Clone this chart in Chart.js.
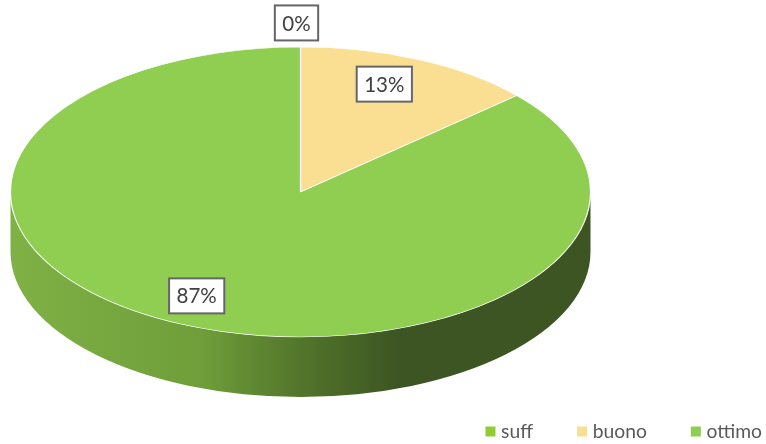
<!DOCTYPE html>
<html>
<head>
<meta charset="utf-8">
<script src="https://cdn.jsdelivr.net/npm/chart.js@4/dist/chart.umd.js"></script>
<style>
html,body{margin:0;padding:0;background:#fff}
#wrap{width:766px;height:444px;position:relative}
</style>
</head>
<body>
<div id="wrap"><canvas id="c" width="766" height="444"></canvas></div>
<script>
const categories = ['suff', 'buono', 'ottimo'];
const sliceValues = [0, 13.4, 86.6];
const sliceColors = ['#92CC34', '#FADF93', '#8FCE50'];

// label placement: radial fraction of the ellipse, then a small pixel nudge
const labelRadial = [1.166, 0.8, 0.8];
const labelNudgeX = [-4, -11, -9];
const labelNudgeY = [0, -2, -2];

const FONT = 'Lato, "Open Sans", sans-serif';
const ellipse = { cx: 300.5, cy: 192, rx: 290, ry: 145, depth: 60 };
const legendGap = 44;
const legendFontSize = 19.3;
const legendRowCentre = 431.5;
const legendRightEdge = 762;

const pie3d = {
  id: 'pie3d',
  afterLayout(chart) {
    const lg = chart.legend;
    lg.top = legendRowCentre - legendFontSize / 2 - legendGap;
    lg.bottom = lg.top + lg.height;
    lg.right = legendRightEdge + legendGap;
  },
  beforeDatasetsDraw(chart) {
    const { ctx } = chart;
    const { cx, cy, rx, ry, depth } = ellipse;
    const g = ctx.createLinearGradient(cx - rx, 0, cx + rx, 0);
    g.addColorStop(0, '#7FB145');
    g.addColorStop(0.33, '#6F9E3A');
    g.addColorStop(0.5, '#52752B');
    g.addColorStop(0.67, '#3C5522');
    g.addColorStop(1, '#3C5522');
    ctx.save();
    ctx.beginPath();
    ctx.moveTo(cx - rx, cy);
    ctx.lineTo(cx - rx, cy + depth);
    ctx.ellipse(cx, cy + depth, rx, ry, 0, Math.PI, 0, true);
    ctx.lineTo(cx + rx, cy);
    ctx.ellipse(cx, cy, rx, ry, 0, 0, Math.PI, false);
    ctx.closePath();
    ctx.fillStyle = g;
    ctx.fill();
    ctx.restore();

    const arc = chart.getDatasetMeta(0).data[0];
    ctx.save();
    ctx.translate(cx, cy);
    ctx.scale(rx / arc.outerRadius, ry / arc.outerRadius);
    ctx.translate(-arc.x, -arc.y);
  },
  afterDatasetsDraw(chart) {
    chart.ctx.restore();
  },
  afterDraw(chart) {
    const { ctx } = chart;
    const { cx, cy, rx, ry } = ellipse;
    const arcs = chart.getDatasetMeta(0).data;
    ctx.save();
    ctx.font = '20.5px ' + FONT;
    ctx.textAlign = 'center';
    ctx.textBaseline = 'middle';
    arcs.forEach((a, i) => {
      const mid = (a.startAngle + a.endAngle) / 2;
      const px = cx + rx * labelRadial[i] * Math.cos(mid) + labelNudgeX[i];
      const py = cy + ry * labelRadial[i] * Math.sin(mid) + labelNudgeY[i];
      const txt = Math.round(sliceValues[i]) + '%';
      const w = ctx.measureText(txt).width + 15;
      const h = 35;
      ctx.fillStyle = '#fff';
      ctx.fillRect(px - w / 2, py - h / 2, w, h);
      ctx.lineWidth = 2;
      ctx.strokeStyle = '#666666';
      ctx.strokeRect(px - w / 2, py - h / 2, w, h);
      ctx.fillStyle = '#404040';
      ctx.fillText(txt, px, py + 1);
    });
    // legend swatches are wider than the library's box-to-text gap allows
    chart.legend.legendHitBoxes.forEach((b, i) => {
      ctx.fillStyle = sliceColors[i];
      ctx.fillRect(b.left, b.top + (b.height - 10) / 2, 10, 10);
    });
    ctx.restore();
  }
};

new Chart(document.getElementById('c'), {
  type: 'pie',
  data: {
    labels: categories,
    datasets: [{
      data: sliceValues,
      backgroundColor: sliceColors,
      borderColor: '#FFFFFF',
      borderWidth: 1.2,
      radius: ellipse.rx,
      clip: false
    }]
  },
  options: {
    responsive: false,
    animation: false,
    plugins: {
      tooltip: { enabled: false },
      legend: {
        position: 'bottom',
        align: 'end',
        labels: {
          boxWidth: 6,
          boxHeight: 10,
          padding: legendGap,
          color: '#595959',
          font: { family: FONT, size: legendFontSize }
        }
      }
    }
  },
  plugins: [pie3d]
});
</script>
</body>
</html>
